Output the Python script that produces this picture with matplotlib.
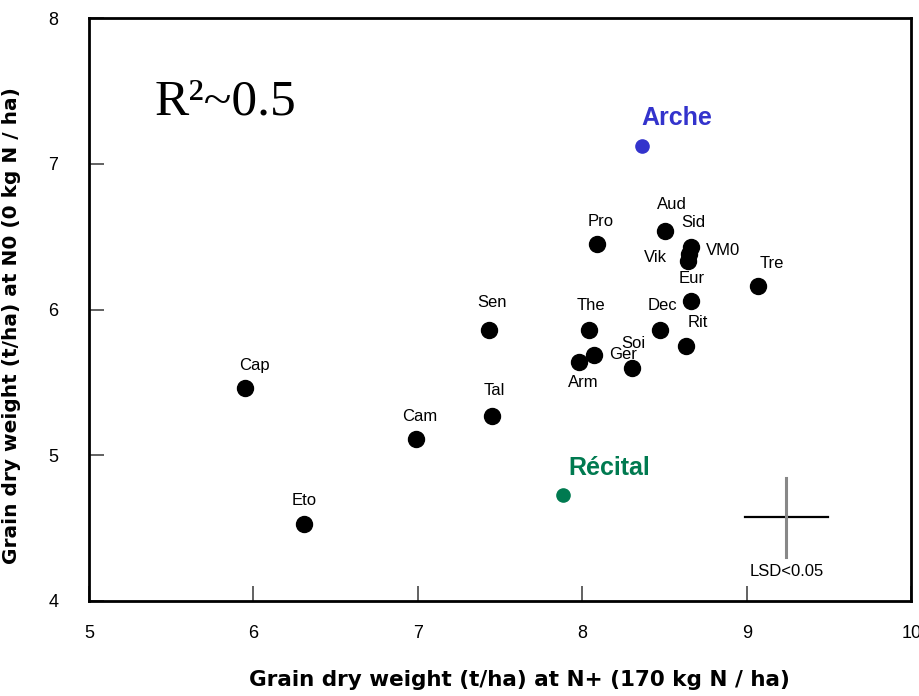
import matplotlib
matplotlib.use("Agg")
import matplotlib.pyplot as plt

# Grain dry weight (t/ha), N+ vs N0
varieties = ["Pro", "Aud", "Sid", "Vik", "VM0", "Eur", "Tre", "The", "Dec", "Rit",
             "Soi", "Ger", "Arm", "Sen", "Tal", "Cam", "Cap", "Eto"]
n_plus = [8.09, 8.50, 8.66, 8.64, 8.65, 8.66, 9.07, 8.04, 8.47, 8.63,
          8.30, 8.07, 7.98, 7.43, 7.45, 6.99, 5.95, 6.31]
n_zero = [6.45, 6.54, 6.43, 6.33, 6.38, 6.06, 6.16, 5.86, 5.86, 5.75,
          5.60, 5.69, 5.64, 5.86, 5.27, 5.11, 5.46, 4.53]

highlight = ["Arche", "Récital"]
highlight_x = [8.36, 7.88]
highlight_y = [7.12, 4.73]

lsd_x = 9.24
lsd_y = 4.575
lsd_half_x = 0.25
lsd_half_y = 0.27

# label offsets in pixels (dx, dy)
offsets = {
    "Pro": (3, 22), "Aud": (7, 26), "Sid": (2, 24), "Vik": (-32, 4),
    "VM0": (34, 4), "Eur": (1, 22), "Tre": (13, 23), "The": (2, 24),
    "Dec": (3, 24), "Rit": (12, 23), "Soi": (2, 24), "Ger": (29, 0),
    "Arm": (4, -20), "Sen": (3, 27), "Tal": (2, 25), "Cam": (3, 23),
    "Cap": (9, 23), "Eto": (0, 23),
}
hl_offsets = [(35, 28), (47, 27)]
hl_colors = ["#3333cc", "#007a50"]

fig = plt.figure(figsize=(9.2, 6.96), dpi=100)
ax = fig.add_axes([0.0967, 0.1365, 0.894, 0.8375])

ax.plot(n_plus, n_zero, "o", color="black", markersize=11.5, linestyle="none")
for name, x, y in zip(varieties, n_plus, n_zero):
    dx, dy = offsets[name]
    ax.annotate(name, (x, y), xytext=(dx, dy), textcoords="offset pixels",
                ha="center", va="center", fontsize=12, family="Liberation Sans")

for name, x, y, (dx, dy), c in zip(highlight, highlight_x, highlight_y, hl_offsets, hl_colors):
    ax.plot([x], [y], "o", color=c, markersize=9.5)
    ax.annotate(name, (x, y), xytext=(dx, dy), textcoords="offset pixels",
                ha="center", va="center", fontsize=18, fontweight="bold",
                color=c, family="Liberation Sans")

# LSD cross
ax.plot([lsd_x - lsd_half_x, lsd_x + lsd_half_x], [lsd_y, lsd_y], color="black", lw=1.6)
ax.plot([lsd_x, lsd_x], [lsd_y - lsd_half_y, lsd_y + lsd_half_y], color="#888888", lw=2.2)
ax.text(lsd_x, 4.205, "LSD<0.05", ha="center", va="center", fontsize=12,
        family="Liberation Sans")

ax.text(0.08, 0.855, "R²~0.5", transform=ax.transAxes, fontsize=37,
        family="Liberation Serif", va="center", ha="left")

ax.set_xlim(5, 10)
ax.set_ylim(4, 8)
ax.set_xticks([5, 6, 7, 8, 9, 10])
ax.set_yticks([4, 5, 6, 7, 8])
ax.tick_params(direction="in", length=11, width=1.3, color="#555555",
               labelsize=13, pad=17)
ax.tick_params(axis="y", pad=22)
for lbl in ax.get_xticklabels() + ax.get_yticklabels():
    lbl.set_family("Liberation Sans")
for s in ax.spines.values():
    s.set_linewidth(2)

ax.set_xlabel("Grain dry weight (t/ha) at N+ (170 kg N / ha)", fontsize=15.5,
              fontweight="bold", family="DejaVu Sans")
ax.set_ylabel("Grain dry weight (t/ha) at N0 (0 kg N / ha)", fontsize=14.5,
              fontweight="bold", family="DejaVu Sans")
ax.xaxis.set_label_coords(0.523, -0.118)
ax.yaxis.set_label_coords(-0.083, 0.473)

fig.savefig("out.png", dpi=100, facecolor="white")
